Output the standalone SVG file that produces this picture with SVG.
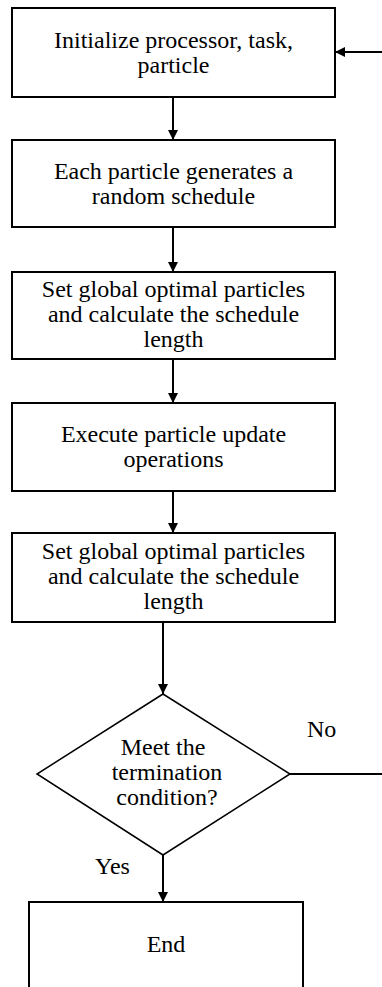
<svg xmlns="http://www.w3.org/2000/svg" width="382" height="987" viewBox="0 0 382 987">
  <style>
    .box { fill: #ffffff; stroke: #000000; stroke-width: 2; }
    .line { fill: none; stroke: #000000; stroke-width: 2; }
    .diamond { fill: #ffffff; stroke: #000000; stroke-width: 1.5; }
  </style>
  <defs>
    <marker id="arrow" viewBox="0 0 10 10" refX="10" refY="5" markerWidth="10" markerHeight="10" markerUnits="userSpaceOnUse" orient="auto">
      <path d="M0,0 L10,5 L0,10 Z" fill="#000000"/>
    </marker>
  </defs>
  <rect width="382" height="987" fill="#ffffff"/>

  <g id="connectors">
    <line class="line" x1="173" y1="97" x2="173" y2="140" marker-end="url(#arrow)"/>
    <line class="line" x1="173" y1="227" x2="173" y2="272" marker-end="url(#arrow)"/>
    <line class="line" x1="173" y1="359" x2="173" y2="403" marker-end="url(#arrow)"/>
    <line class="line" x1="173" y1="491" x2="173" y2="533" marker-end="url(#arrow)"/>
    <line class="line" x1="163" y1="622" x2="163" y2="694" marker-end="url(#arrow)"/>
    <line class="line" x1="163" y1="855" x2="163" y2="902" marker-end="url(#arrow)"/>
    <line class="line" x1="290" y1="774" x2="382" y2="774"/>
    <line class="line" x1="382" y1="52" x2="335" y2="52" marker-end="url(#arrow)"/>
    <text x="307" y="737" font-family="Times New Roman" font-size="24">No</text>
    <text x="95" y="874" font-family="Times New Roman" font-size="24">Yes</text>
  </g>

  <g id="init">
    <rect class="box" x="12" y="8" width="323" height="89"/>
    <text x="173.5" y="48" font-family="Times New Roman" font-size="24" text-anchor="middle">Initialize processor, task,</text>
    <text x="173.5" y="73" font-family="Times New Roman" font-size="24" text-anchor="middle">particle</text>
  </g>

  <g id="generate">
    <rect class="box" x="12" y="140" width="323" height="87"/>
    <text x="173.5" y="179" font-family="Times New Roman" font-size="24" text-anchor="middle">Each particle generates a</text>
    <text x="173.5" y="204" font-family="Times New Roman" font-size="24" text-anchor="middle">random schedule</text>
  </g>

  <g id="global1">
    <rect class="box" x="12" y="272" width="323" height="87"/>
    <text x="173.5" y="297" font-family="Times New Roman" font-size="24" text-anchor="middle">Set global optimal particles</text>
    <text x="173.5" y="322" font-family="Times New Roman" font-size="24" text-anchor="middle">and calculate the schedule</text>
    <text x="173.5" y="347" font-family="Times New Roman" font-size="24" text-anchor="middle">length</text>
  </g>

  <g id="update">
    <rect class="box" x="12" y="403" width="323" height="88"/>
    <text x="173.5" y="442" font-family="Times New Roman" font-size="24" text-anchor="middle">Execute particle update</text>
    <text x="173.5" y="467" font-family="Times New Roman" font-size="24" text-anchor="middle">operations</text>
  </g>

  <g id="global2">
    <rect class="box" x="12" y="533" width="323" height="89"/>
    <text x="173.5" y="559" font-family="Times New Roman" font-size="24" text-anchor="middle">Set global optimal particles</text>
    <text x="173.5" y="584" font-family="Times New Roman" font-size="24" text-anchor="middle">and calculate the schedule</text>
    <text x="173.5" y="609" font-family="Times New Roman" font-size="24" text-anchor="middle">length</text>
  </g>

  <g id="decision">
    <polygon class="diamond" points="163,694 290,774 163,855 37,774"/>
    <text x="163" y="755" font-family="Times New Roman" font-size="24" text-anchor="middle">Meet the</text>
    <text x="167" y="780" font-family="Times New Roman" font-size="24" text-anchor="middle">termination</text>
    <text x="167" y="805" font-family="Times New Roman" font-size="24" text-anchor="middle">condition?</text>
  </g>

  <g id="end">
    <rect class="box" x="29" y="902" width="274" height="100"/>
    <text x="166" y="952" font-family="Times New Roman" font-size="24" text-anchor="middle">End</text>
  </g>
</svg>
